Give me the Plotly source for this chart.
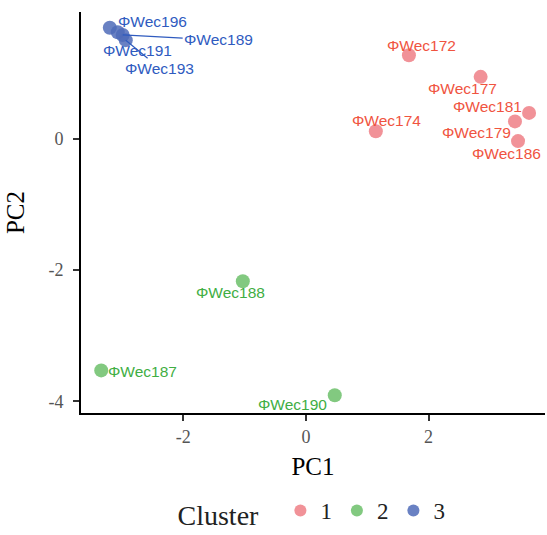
import plotly.graph_objects as go

# Data
labels = ["ΦWec172", "ΦWec174", "ΦWec177", "ΦWec179", "ΦWec181", "ΦWec186",
          "ΦWec187", "ΦWec188", "ΦWec190",
          "ΦWec189", "ΦWec191", "ΦWec193", "ΦWec196"]
pc1 = [1.68, 1.14, 2.85, 3.41, 3.64, 3.46,
       -3.34, -1.03, 0.47,
       -2.99, -3.07, -2.94, -3.20]
pc2 = [1.28, 0.12, 0.95, 0.27, 0.40, -0.03,
       -3.53, -2.17, -3.91,
       1.59, 1.63, 1.51, 1.70]
cluster = [1, 1, 1, 1, 1, 1, 2, 2, 2, 3, 3, 3, 3]
cluster_names = [1, 2, 3]
x_ticks = [-2, 0, 2]
x_ticklabels = ["-2", "0", "2"]
y_ticks = [-4, -2, 0]
y_ticklabels = ["-4", "-2", "0"]

# Styles
point_colors = {1: "#EE7F86", 2: "#6CBF6A", 3: "#4F6BB8"}
text_colors = {1: "#F0543F", 2: "#3FAE43", 3: "#2F5BBF"}
# label offsets in pixels (dx, dy up-positive, arrow?)
label_offsets = {
    "ΦWec172": (13, 10, False), "ΦWec174": (11, 11, False),
    "ΦWec177": (-18, -12, False), "ΦWec179": (-38, -11, False),
    "ΦWec181": (-42, 6, False), "ΦWec186": (-12, -12, False),
    "ΦWec187": (41, -1, False), "ΦWec188": (-12, -11, False),
    "ΦWec190": (-42, -9, False),
    "ΦWec189": (96, -5, True), "ΦWec191": (20, -18, False),
    "ΦWec193": (34, -28, True), "ΦWec196": (43, 6, False),
}
label_font = "Liberation Sans, Arial"
serif = "Liberation Serif, Times New Roman, serif"

fig = go.Figure()
for c in cluster_names:
    xs = [x for x, k in zip(pc1, cluster) if k == c]
    ys = [y for y, k in zip(pc2, cluster) if k == c]
    fig.add_trace(go.Scatter(
        x=xs, y=ys, mode="markers", name=str(c),
        marker=dict(size=14, color=point_colors[c], opacity=0.85, line=dict(width=0)),
    ))

for lab, x, y, c in zip(labels, pc1, pc2, cluster):
    dx, dy, arrow = label_offsets[lab]
    f = dict(family=label_font, size=15.5, color=text_colors[c])
    if arrow:
        fig.add_annotation(x=x, y=y, text=lab, showarrow=True, ax=dx, ay=-dy,
                           arrowhead=0, arrowwidth=1.2, arrowcolor=text_colors[c],
                           standoff=0, font=f)
    else:
        fig.add_annotation(x=x, y=y, text=lab, showarrow=False, xshift=dx, yshift=dy, font=f)

axis_common = dict(
    showgrid=False, zeroline=False, showline=True, linecolor="black", linewidth=2,
    ticks="outside", ticklen=6, tickwidth=1.5, tickcolor="#333333", automargin=False,
    tickfont=dict(family=serif, size=18, color="#555555"),
    title_font=dict(family=serif, size=25, color="black"),
)

fig.update_layout(
    width=547, height=535,
    margin=dict(l=81, r=2, t=12, b=122),
    plot_bgcolor="white", paper_bgcolor="white",
    xaxis=dict(range=[-3.67, 3.9], tickvals=x_ticks, ticktext=x_ticklabels, title_text="PC1",
               title_standoff=12, **axis_common),
    yaxis=dict(range=[-4.18, 1.94], tickvals=y_ticks, ticktext=y_ticklabels, title_text="PC2",
               title_standoff=17, ticklabelstandoff=6, **axis_common),
    legend=dict(orientation="h", x=0.5, xanchor="center", xref="paper",
                y=0.042, yanchor="middle", yref="container",
                title=dict(text="Cluster  ", font=dict(family=serif, size=28, color="#222222")),
                font=dict(family=serif, size=23, color="#222222"),
                itemsizing="constant"),
    showlegend=True,
)

fig.write_html("out.html", post_script="document.body.style.margin='0';",
               config={"displayModeBar": False})
